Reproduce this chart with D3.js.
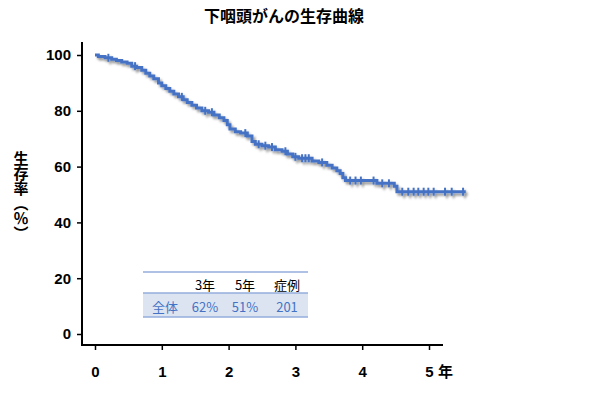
<!DOCTYPE html>
<html>
<head>
<meta charset="utf-8">
<script src="https://cdn.jsdelivr.net/npm/d3@7"></script>
<style>
  body { margin: 0; background: #fff; }
  svg { display: block; }
</style>
</head>
<body>
<div id="chart"></div>
<script>
// 生存曲線のデータ（年, 生存率%）
const eventTimes = [0.05, 0.15, 0.25, 0.32, 0.4, 0.48, 0.55, 0.62, 0.7, 0.76, 0.82, 0.88, 0.95, 1.0, 1.06, 1.12, 1.18, 1.25, 1.32, 1.38,
  1.45, 1.52, 1.6, 1.7, 1.78, 1.86, 1.93, 1.98, 2.02, 2.1, 2.18, 2.28, 2.35, 2.4, 2.5, 2.6, 2.7, 2.8, 2.88, 2.96,
  3.05, 3.25, 3.35, 3.47, 3.55, 3.62, 3.67, 3.71, 3.75, 4.22, 4.48, 4.52];
const survival = [99.5, 99.0, 98.5, 98.0, 97.5, 97.0, 96.0, 95.5, 94.5, 93.5, 92.5, 91.5, 90.0, 89.0, 88.0, 87.0, 86.0, 85.0, 84.0, 83.0,
  82.0, 81.0, 80.0, 79.5, 78.5, 77.5, 76.5, 75.0, 73.5, 72.5, 72.0, 71.0, 69.0, 68.0, 67.5, 67.0, 66.0, 65.5, 64.5, 63.5,
  63.0, 62.0, 61.5, 60.5, 59.5, 58.5, 57.5, 56.0, 55.0, 54.0, 53.0, 51.0];
const endTime = 5.55;
const censorTimes = [0.2, 0.6, 1.3, 1.65, 1.75, 2.25, 2.45, 2.55, 2.65, 2.85, 3.0, 3.1, 3.15, 3.2, 3.4,
  3.82, 3.9, 3.98, 4.17, 4.3, 4.4, 4.6, 4.69, 4.77, 4.84, 4.92, 4.99, 5.07, 5.24, 5.34, 5.51];

const xTicks = [0, 1, 2, 3, 4, 5];
const yTicks = [0, 20, 40, 60, 80, 100];

// 表
const tableHeader = ['', '3年', '5年', '症例'];
const tableRow = ['全体', '62%', '51%', '201'];

const title = '下咽頭がんの生存曲線';
const yLabel = '生存率（％）';

const width = 600, height = 394;
const blue = '#4472C4';

const svg = d3.select('#chart').append('svg')
  .attr('width', width)
  .attr('height', height);

// 影
const defs = svg.append('defs');
defs.append('filter')
  .attr('id', 'shadow')
  .attr('x', '-5%').attr('y', '-5%').attr('width', '110%').attr('height', '120%')
  .append('feDropShadow')
  .attr('dx', 2).attr('dy', 2.5)
  .attr('stdDeviation', 1.3)
  .attr('flood-color', '#000')
  .attr('flood-opacity', 0.4);

const x = d3.scaleLinear().domain([0, 5]).range([95, 429]);
const y = d3.scaleLinear().domain([0, 100]).range([334, 55]);

const axisX = 82, axisY = 345;

// タイトル
svg.append('text')
  .attr('x', 284).attr('y', 22)
  .attr('text-anchor', 'middle')
  .style('font-family', '"Noto Sans CJK JP", sans-serif')
  .style('font-weight', 'bold')
  .style('font-size', '16px')
  .text(title);

// Y軸
const yAxis = svg.append('g')
  .attr('transform', `translate(${axisX},0)`)
  .call(d3.axisLeft(y).tickValues(yTicks).tickSize(5).tickPadding(6).tickFormat(d3.format('d')));
yAxis.select('.domain').remove();
yAxis.selectAll('line').attr('stroke', '#000').attr('stroke-width', 1.5);
yAxis.selectAll('text')
  .style('font-family', '"Liberation Sans", Arial, sans-serif')
  .style('font-weight', 'bold')
  .style('font-size', '15px')
  .attr('fill', '#000');

// X軸
const xAxis = svg.append('g')
  .attr('transform', `translate(0,${axisY})`)
  .call(d3.axisBottom(x).tickValues(xTicks).tickSize(5).tickPadding(16).tickFormat(d3.format('d')));
xAxis.select('.domain').remove();
xAxis.selectAll('line').attr('stroke', '#000').attr('stroke-width', 1.5);
xAxis.selectAll('text')
  .style('font-family', '"Liberation Sans", Arial, sans-serif')
  .style('font-weight', 'bold')
  .style('font-size', '15px')
  .attr('fill', '#000');

svg.append('text')
  .attr('x', x(5) + 9).attr('y', axisY + 32)
  .style('font-family', '"Noto Sans CJK JP", sans-serif')
  .style('font-weight', 'bold')
  .style('font-size', '15px')
  .text('年');

// 軸線
svg.append('line')
  .attr('x1', axisX).attr('x2', axisX)
  .attr('y1', 42).attr('y2', axisY + 1)
  .attr('stroke', '#000').attr('stroke-width', 2);
svg.append('line')
  .attr('x1', axisX - 1).attr('x2', 443)
  .attr('y1', axisY).attr('y2', axisY)
  .attr('stroke', '#000').attr('stroke-width', 2);

// Y軸ラベル（縦書き）
svg.append('text')
  .attr('x', 21).attr('y', 151)
  .style('writing-mode', 'vertical-rl')
  .style('font-family', '"Noto Sans CJK JP", sans-serif')
  .style('font-weight', 'bold')
  .style('font-size', '15px')
  .text(yLabel);

// 生存曲線
const stepData = [[0, 100]].concat(eventTimes.map((t, i) => [t, survival[i]]));
stepData.push([endTime, survival[survival.length - 1]]);

const survAt = t => {
  let s = 100;
  eventTimes.forEach((et, i) => { if (et <= t) s = survival[i]; });
  return s;
};

const curve = svg.append('g').attr('filter', 'url(#shadow)');

curve.append('path')
  .datum(stepData)
  .attr('fill', 'none')
  .attr('stroke', blue)
  .attr('stroke-width', 3)
  .attr('d', d3.line()
    .x(d => x(d[0]))
    .y(d => y(d[1]))
    .curve(d3.curveStepAfter));

curve.selectAll('.censor')
  .data(censorTimes)
  .enter().append('line')
  .attr('class', 'censor')
  .attr('x1', d => x(d)).attr('x2', d => x(d))
  .attr('y1', d => y(survAt(d)) - 4)
  .attr('y2', d => y(survAt(d)) + 4)
  .attr('stroke', blue)
  .attr('stroke-width', 2);

// 表
const tbl = svg.append('g')
  .style('font-family', '"Noto Sans CJK JP", sans-serif')
  .style('font-size', '13px');
const colX = [165, 205, 245, 287];
const tLeft = 143, tRight = 308;

tbl.append('rect')
  .attr('x', tLeft).attr('y', 293)
  .attr('width', tRight - tLeft).attr('height', 24)
  .attr('fill', '#DCE4F2');
[[272, 1.5], [293, 1.5], [317, 1.5]].forEach(([ly, w]) => {
  tbl.append('line')
    .attr('x1', tLeft).attr('x2', tRight)
    .attr('y1', ly).attr('y2', ly)
    .attr('stroke', '#95AEDC').attr('stroke-width', w);
});
tableHeader.forEach((h, i) => {
  tbl.append('text')
    .attr('x', colX[i]).attr('y', 284)
    .attr('text-anchor', 'middle')
    .attr('dominant-baseline', 'central')
    .attr('fill', '#000')
    .text(h);
});
tableRow.forEach((v, i) => {
  tbl.append('text')
    .attr('x', colX[i]).attr('y', 306)
    .attr('text-anchor', 'middle')
    .attr('dominant-baseline', 'central')
    .attr('fill', blue)
    .text(v);
});
</script>
</body>
</html>
